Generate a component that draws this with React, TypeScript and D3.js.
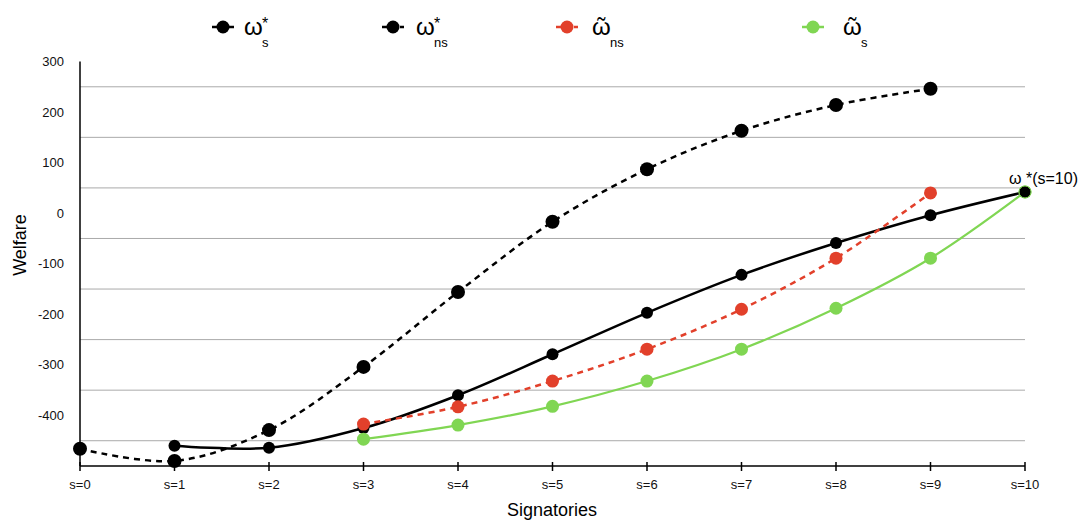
import React, { useEffect, useRef } from "react";
import * as d3 from "d3";

// signatory counts along the x axis
const categories = ["s=0", "s=1", "s=2", "s=3", "s=4", "s=5", "s=6", "s=7", "s=8", "s=9", "s=10"];

// welfare of signatories, fully cooperative (solid black)
const omegaS = [null, -460, -464, -425, -360, -279, -197, -122, -59, -4, 42];
// welfare of non-signatories (dashed black)
const omegaNS = [-466, -490, -429, -304, -156, -17, 87, 163, 214, 246, null];
// tilde non-signatories (dashed red)
const tildeNS = [null, null, null, -417, -383, -332, -269, -190, -89, 40, null];
// tilde signatories (solid green)
const tildeS = [null, null, null, -447, -419, -382, -332, -269, -188, -89, 42];

const yTicks = [300, 200, 100, 0, -100, -200, -300, -400];
const gridValues = [250, 150, 50, -50, -150, -250, -350, -450];

const RED = "#e2402b";
const GREEN = "#80d653";
const FONT = "'Liberation Sans', Arial, Helvetica, sans-serif";

export default function App() {
  const ref = useRef<SVGSVGElement>(null);

  useEffect(() => {
    const width = 1082,
      height = 523;
    const svg = d3.select(ref.current);
    svg.selectAll("*").remove();

    const x = d3.scalePoint<string>().domain(categories).range([80, 1025]);
    const y = d3.scaleLinear().domain([-500, 300]).range([466, 61.5]);

    // gridlines
    svg
      .append("g")
      .selectAll("line")
      .data(gridValues)
      .enter()
      .append("line")
      .attr("x1", 80)
      .attr("x2", 1025)
      .attr("y1", (d) => y(d))
      .attr("y2", (d) => y(d))
      .attr("stroke", "#aaaaaa")
      .attr("stroke-width", 1);

    // y axis
    svg
      .append("line")
      .attr("x1", 80)
      .attr("x2", 80)
      .attr("y1", y(300))
      .attr("y2", y(-500))
      .attr("stroke", "#000")
      .attr("stroke-width", 1.5);

    svg
      .append("g")
      .selectAll("text")
      .data(yTicks)
      .enter()
      .append("text")
      .attr("x", 64)
      .attr("y", (d) => y(d))
      .attr("dy", "0.35em")
      .attr("text-anchor", "end")
      .attr("font-family", FONT)
      .attr("font-size", 13)
      .attr("fill", "#111")
      .text((d) => d);

    // x axis
    svg
      .append("line")
      .attr("x1", 80)
      .attr("x2", 1025)
      .attr("y1", y(-500))
      .attr("y2", y(-500))
      .attr("stroke", "#000")
      .attr("stroke-width", 1.5);

    const xt = svg.append("g").selectAll("g").data(categories).enter().append("g");
    xt.append("line")
      .attr("x1", (d) => x(d)!)
      .attr("x2", (d) => x(d)!)
      .attr("y1", 462)
      .attr("y2", 471)
      .attr("stroke", "#000")
      .attr("stroke-width", 1.5);
    xt.append("text")
      .attr("x", (d) => x(d)!)
      .attr("y", 489)
      .attr("text-anchor", "middle")
      .attr("font-family", FONT)
      .attr("font-size", 13)
      .attr("fill", "#111")
      .text((d) => d);

    // axis titles
    svg
      .append("text")
      .attr("x", 552)
      .attr("y", 516)
      .attr("text-anchor", "middle")
      .attr("font-family", FONT)
      .attr("font-size", 18)
      .text("Signatories");
    svg
      .append("text")
      .attr("transform", "translate(26,245) rotate(-90)")
      .attr("text-anchor", "middle")
      .attr("font-family", FONT)
      .attr("font-size", 18)
      .text("Welfare");

    // series
    const series = [
      { values: omegaNS, color: "#000", dash: "6,5", width: 2.5, r: 7 },
      { values: omegaS, color: "#000", dash: null, width: 2.5, r: 6 },
      { values: tildeNS, color: RED, dash: "6,5", width: 2.5, r: 6.5 },
      { values: tildeS, color: GREEN, dash: null, width: 2.2, r: 6.5 },
    ];

    const line = d3
      .line<[string, number]>()
      .x((d) => x(d[0])!)
      .y((d) => y(d[1]))
      .curve(d3.curveCatmullRom.alpha(0.5));

    series.forEach((s) => {
      const pts = categories
        .map((c, i) => [c, s.values[i]] as [string, number | null])
        .filter((d) => d[1] !== null) as [string, number][];
      const p = svg
        .append("path")
        .attr("d", line(pts))
        .attr("fill", "none")
        .attr("stroke", s.color)
        .attr("stroke-width", s.width);
      if (s.dash) p.attr("stroke-dasharray", s.dash);
      svg
        .append("g")
        .selectAll("circle")
        .data(pts)
        .enter()
        .append("circle")
        .attr("cx", (d) => x(d[0])!)
        .attr("cy", (d) => y(d[1]))
        .attr("r", s.r)
        .attr("fill", s.color);
    });

    // shared end point: black with a green rim
    svg
      .append("circle")
      .attr("cx", x("s=10")!)
      .attr("cy", y(omegaS[10]!))
      .attr("r", 6)
      .attr("fill", "#000")
      .attr("stroke", GREEN)
      .attr("stroke-width", 1);

    svg
      .append("text")
      .attr("x", 1078)
      .attr("y", 184)
      .attr("text-anchor", "end")
      .attr("font-family", FONT)
      .attr("font-size", 16)
      .text("ω *(s=10)");

    // legend
    const lg = svg.append("g").attr("font-family", FONT);
    const items = [
      { cx: 223, color: "#000", dash: null, glyph: "ω", wx: 244, sub: "s", star: true },
      { cx: 393, color: "#000", dash: "5,4", glyph: "ω", wx: 416, sub: "ns", star: true },
      { cx: 567, color: RED, dash: "5,4", glyph: "ῶ", wx: 592, sub: "ns", star: false },
      { cx: 813, color: GREEN, dash: null, glyph: "ῶ", wx: 843, sub: "s", star: false },
    ];
    items.forEach((it) => {
      const l = lg
        .append("line")
        .attr("x1", it.cx - 11)
        .attr("x2", it.cx + 11)
        .attr("y1", 27)
        .attr("y2", 27)
        .attr("stroke", it.color)
        .attr("stroke-width", 2.5);
      if (it.dash) l.attr("stroke-dasharray", it.dash);
      lg.append("circle").attr("cx", it.cx).attr("cy", 27).attr("r", 6.5).attr("fill", it.color);
      lg.append("text").attr("x", it.wx).attr("y", 35).attr("font-size", 24).text(it.glyph);
      if (it.star)
        lg.append("text").attr("x", it.wx + 18).attr("y", 29).attr("font-size", 16).text("*");
      lg.append("text").attr("x", it.wx + 18).attr("y", 47).attr("font-size", 13).text(it.sub);
    });

    svg.attr("width", width).attr("height", height);
  }, []);

  return (
    <svg
      ref={ref}
      width={1082}
      height={523}
      style={{ position: "absolute", left: 0, top: 0, background: "#fff" }}
    />
  );
}
